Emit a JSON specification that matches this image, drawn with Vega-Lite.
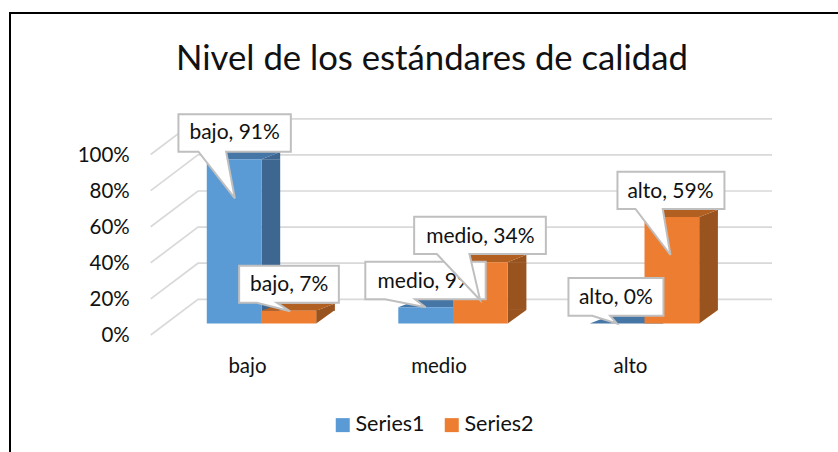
{
"$schema":"https://vega.github.io/schema/vega-lite/v6.json",
"width":830,"height":440,
"autosize":"none",
"padding":{"left":10,"top":13,"right":0,"bottom":0},
"background":"white",
"view":{"stroke":"#000000","strokeWidth":2,"fill":"white"},
"title":{"text":"Nivel de los estándares de calidad","font":"Lato","fontSize":34.7,"fontWeight":"normal","color":"#111111","anchor":"middle","frame":"group","dx":7,"offset":-65},
"datasets":{
"bars":[
{"cat":"bajo","series":"Series1","v":0.91,"label":"bajo, 91%"},
{"cat":"medio","series":"Series1","v":0.09,"label":"medio, 9%"},
{"cat":"alto","series":"Series1","v":0,"label":"alto, 0%"},
{"cat":"bajo","series":"Series2","v":0.07,"label":"bajo, 7%"},
{"cat":"medio","series":"Series2","v":0.34,"label":"medio, 34%"},
{"cat":"alto","series":"Series2","v":0.59,"label":"alto, 59%"}
],
"ticks":[{"tick":0},{"tick":0.2},{"tick":0.4},{"tick":0.6},{"tick":0.8},{"tick":1}]
},
"data":{"name":"bars"},
"layer":[
{"data":{"name":"ticks"},
 "mark":{"type":"point","shape":"M-110.8 11.5 L-63.5 -24.2 L510.5 -24.2","size":4,"filled":false,"stroke":"#d9d9d9","strokeWidth":1.7,"opacity":1},
 "encoding":{"x":{"datum":"bajo","type":"nominal"},"y":{"field":"tick","type":"quantitative"}}},
{"transform":[{"filter":"datum.v > 0.075 && datum.series==='Series1'"}],
 "mark":{"type":"bar","width":18.7,"xOffset":9.35,"color":"#3d6790"},
 "encoding":{"x":{"field":"cat","type":"nominal"},"y":{"field":"v","type":"quantitative","stack":null},"y2":{"datum":0.075}}},
{"transform":[{"filter":"datum.v > 0.075 && datum.series==='Series2'"}],
 "mark":{"type":"bar","width":18.7,"xOffset":64.05,"color":"#99531e"},
 "encoding":{"x":{"field":"cat","type":"nominal"},"y":{"field":"v","type":"quantitative","stack":null},"y2":{"datum":0.075}}},
{"encoding":{
  "x":{"field":"cat","type":"nominal","title":null,"sort":["bajo","medio","alto"],
       "scale":{"domain":["bajo","medio","alto"],"range":[155.75,730.25],"paddingInner":0.4287,"paddingOuter":0.2143},
       "axis":{"domain":false,"ticks":false,"grid":false,"labelAngle":0,"labelAlign":"center","labelFont":"Lato","labelFontSize":20.5,"labelColor":"#111111","labelPadding":0,"labelOffset":-14,"offset":-87}},
  "xOffset":{"field":"series","type":"nominal","scale":{"domain":["Series1","Series2"],"paddingInner":0,"paddingOuter":0}},
  "y":{"field":"v","type":"quantitative","stack":null,"title":null,
       "scale":{"domain":[0,1],"range":[310.5,130],"nice":false,"zero":false},
       "axis":{"values":[0,0.2,0.4,0.6,0.8,1],"format":".0%","domain":false,"ticks":false,"grid":false,"labelFont":"Lato","labelFontSize":20.5,"labelColor":"#111111","labelPadding":0,"labelOffset":12,"offset":-119.3}}
 },
 "layer":[
 {"mark":{"type":"point","shape":"M27.35 0 L46.05 -7.3 L46.05 0 Z","size":4,"filled":true,"opacity":1},
  "encoding":{"fill":{"condition":{"test":"datum.series==='Series1'","value":"#3d6790"},"value":"#99531e"}}},
 {"mark":{"type":"point","shape":"M27.35 0 L46.05 -13.5 L27.35 -13.5 Z","size":4,"filled":true,"opacity":1},
  "encoding":{"y":{"datum":0},"fill":{"condition":{"test":"datum.series==='Series1'","value":"#3d6790"},"value":"#99531e"}}},
 {"mark":{"type":"point","shape":"M-27.35 0 L27.35 0 L46.05 -7.3 L-8.65 -7.3 Z","size":4,"filled":true,"opacity":1},
  "encoding":{"fill":{"condition":{"test":"datum.series==='Series1'","value":"#4676a5"},"value":"#b25f22"}}},
 {"mark":{"type":"bar"},
  "encoding":{"y2":{"datum":0},"color":{"field":"series","type":"nominal","title":null,
     "scale":{"domain":["Series1","Series2"],"range":["#5b9bd5","#ed7d31"]},
     "legend":{"orient":"none","legendX":322,"legendY":401,"direction":"horizontal","symbolType":"square","symbolSize":196,"symbolStrokeWidth":0,"symbolOpacity":1,"labelFont":"Lato","labelFontSize":21.5,"labelColor":"#111111","labelOffset":2,"columnPadding":16,"padding":0}}}},
 {"transform":[{"filter":"datum.label==='bajo, 91%'"}],"layer":[
  {"mark":{"type":"point","shape":"M-55.7 -44.9 L56.7 -44.9 L56.7 -7.5 L-8 -7.5 L0.7 39.1 L-35.7 -7.5 L-55.7 -7.5 Z","size":4,"filled":true,"fill":"white","stroke":"#bfbfbf","strokeWidth":2,"opacity":1}},
  {"mark":{"type":"text","font":"Lato","fontSize":21,"color":"#111111","dx":0.5,"dy":-25.9,"baseline":"middle"},"encoding":{"text":{"field":"label"}}}]},
 {"transform":[{"filter":"datum.label==='bajo, 7%'"}],"layer":[
  {"mark":{"type":"point","shape":"M-49.7 -45.2 L50 -45.2 L50 -8.2 L-12 -8.2 L1.3 0.4 L-32 -8.2 L-49.7 -8.2 Z","size":4,"filled":true,"fill":"white","stroke":"#bfbfbf","strokeWidth":2,"opacity":1}},
  {"mark":{"type":"text","font":"Lato","fontSize":21,"color":"#111111","dx":0.3,"dy":-25.9,"baseline":"middle"},"encoding":{"text":{"field":"label"}}}]},
 {"transform":[{"filter":"datum.label==='medio, 9%'"}],"layer":[
  {"mark":{"type":"point","shape":"M-60.35 -45.6 L60.05 -45.6 L60.05 -8 L-10.65 -8 L0 0 L-40.65 -8 L-60.35 -8 Z","size":4,"filled":true,"fill":"white","stroke":"#bfbfbf","strokeWidth":2,"opacity":1}},
  {"mark":{"type":"text","font":"Lato","fontSize":21,"color":"#111111","dx":0,"dy":-25,"baseline":"middle"},"encoding":{"text":{"field":"label"}}}]},
 {"transform":[{"filter":"datum.label==='alto, 0%'"}],"layer":[
  {"mark":{"type":"point","shape":"M-48.7 -45.5 L46.3 -45.5 L46.3 -7.8 L-7 -7.8 L-0.3 0 L-25 -7.8 L-48.7 -7.8 Z","size":4,"filled":true,"fill":"white","stroke":"#bfbfbf","strokeWidth":2,"opacity":1}},
  {"mark":{"type":"text","font":"Lato","fontSize":21,"color":"#111111","dx":-1.3,"dy":-25.2,"baseline":"middle"},"encoding":{"text":{"field":"label"}}}]},
 {"transform":[{"filter":"datum.label==='medio, 34%'"}],"layer":[
  {"mark":{"type":"point","shape":"M-66.2 -45.4 L65.5 -45.4 L65.5 -8.1 L-10.9 -8.1 L-0.2 37.9 L-43.5 -8.1 L-66.2 -8.1 Z","size":4,"filled":true,"fill":"white","stroke":"#bfbfbf","strokeWidth":2,"opacity":1}},
  {"mark":{"type":"text","font":"Lato","fontSize":21,"color":"#111111","dx":0,"dy":-25.4,"baseline":"middle"},"encoding":{"text":{"field":"label"}}}]},
 {"transform":[{"filter":"datum.label==='alto, 59%'"}],"layer":[
  {"mark":{"type":"point","shape":"M-54.4 -45.3 L52.6 -45.3 L52.6 -8 L-9.1 -8 L-1.4 38 L-36.4 -8 L-54.4 -8 Z","size":4,"filled":true,"fill":"white","stroke":"#bfbfbf","strokeWidth":2,"opacity":1}},
  {"mark":{"type":"text","font":"Lato","fontSize":21,"color":"#111111","dx":-1.4,"dy":-25.3,"baseline":"middle"},"encoding":{"text":{"field":"label"}}}]}
 ]}
]
}
